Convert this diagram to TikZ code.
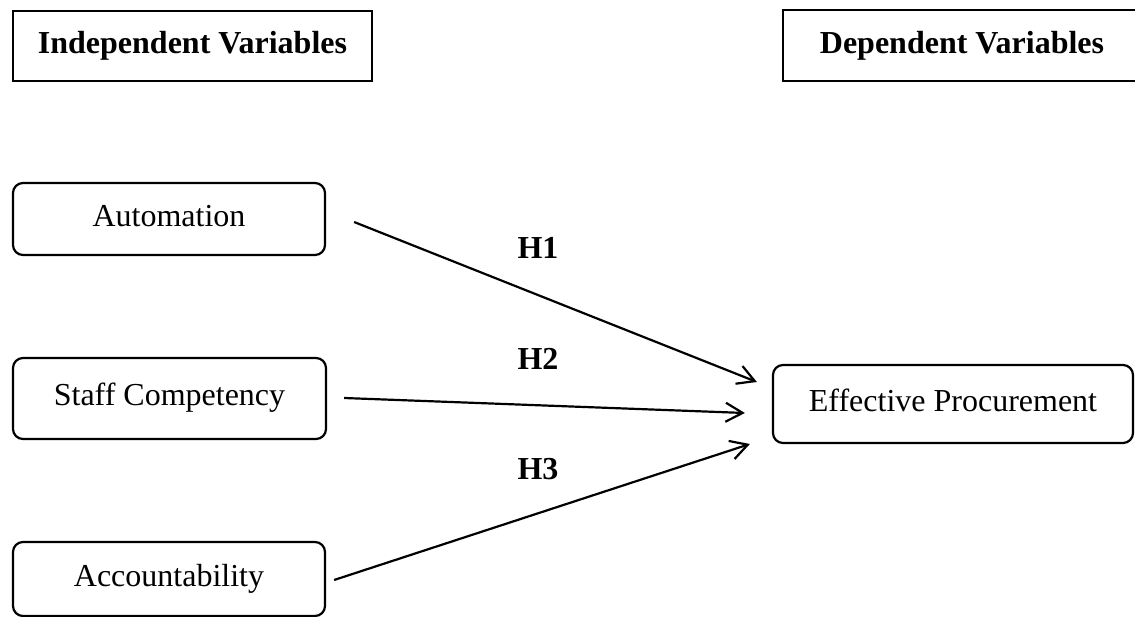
\documentclass[tikz,border=0pt]{standalone}
\usepackage{fontspec}
\setmainfont{Liberation Serif}
\usetikzlibrary{arrows.meta,calc}
\tikzset{
  hdrbox/.style={draw, line width=2.7pt, rectangle, font=\fontsize{32}{38}\selectfont\bfseries},
  varbox/.style={draw, line width=2.2pt, rectangle, rounded corners=10pt, font=\fontsize{32}{38}\selectfont, text height=22pt, text depth=7pt},
  hlabel/.style={font=\fontsize{32}{38}\selectfont\bfseries, inner sep=0pt},
  arr/.style={line width=2.2pt, line join=round, -{Straight Barb[length=17pt,width=19pt,line width=2.2pt]}}
}
\begin{document}
\begin{tikzpicture}[x=1pt,y=-1pt]
\useasboundingbox (0,0) rectangle (1135,617);
\clip (0,0) rectangle (1135,617);
\fill[white] (0,0) rectangle (1135,617);
\node[hdrbox, minimum width=359pt, minimum height=70pt] (indep) at (192.5,46) {Independent Variables};
\node[hdrbox, minimum width=358pt, minimum height=71pt] (dep) at (962,45.5) {Dependent Variables};
\node[varbox, minimum width=312pt, minimum height=72pt] (auto) at (169,219) {Automation};
\node[varbox, minimum width=313pt, minimum height=81pt] (staff) at (169.5,398.5) {Staff Competency};
\node[varbox, minimum width=312pt, minimum height=74pt] (acc) at (169,579) {Accountability};
\node[varbox, minimum width=360pt, minimum height=78pt] (ep) at (953,404) {Effective Procurement};
\node[hlabel] (h1) at (538,248) {H1};
\node[hlabel] (h2) at (538,359) {H2};
\node[hlabel] (h3) at (538,469) {H3};
\draw[arr] ([shift={(28,3)}]auto.east) -- ([shift={(-15,-22)}]ep.west);
\draw[arr] ([shift={(17,-0.5)}]staff.east) -- ([shift={(-27,9)}]ep.west);
\draw[arr] ([shift={(8,1)}]acc.east) -- ([shift={(-22,40)}]ep.west);
\end{tikzpicture}
\end{document}
